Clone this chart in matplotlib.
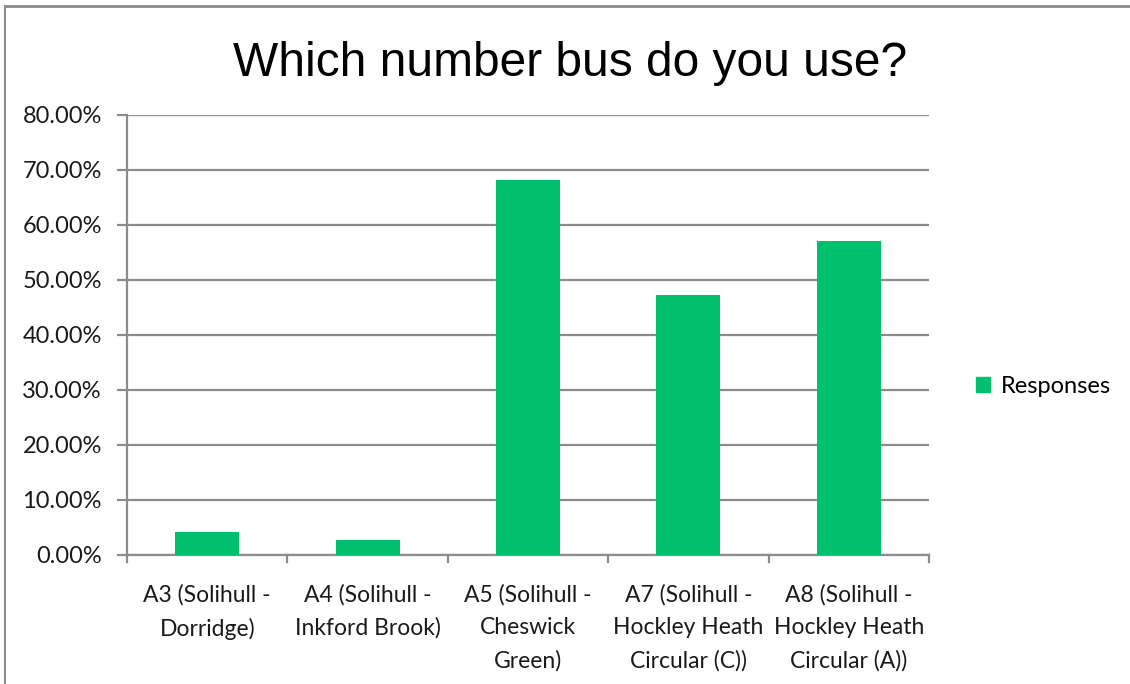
import matplotlib.pyplot as plt
from matplotlib.lines import Line2D
from matplotlib.patches import Patch

# data
categories = ["A3 (Solihull -\nDorridge)",
              "A4 (Solihull -\nInkford Brook)",
              "A5 (Solihull -\nCheswick\nGreen)",
              "A7 (Solihull -\nHockley Heath\nCircular (C))",
              "A8 (Solihull -\nHockley Heath\nCircular (A))"]
responses = [4.1, 2.6, 68.2, 47.3, 57.1]
yticks = [0, 10, 20, 30, 40, 50, 60, 70, 80]

green = "#00BF6F"
grid_col = "#8C8C8C"

W, H = 1130, 684
fig = plt.figure(figsize=(W / 100, H / 100), dpi=100)
ax = fig.add_axes([127 / W, 1 - 554.5 / H, (929 - 127) / W, (554.5 - 115) / H])

x = list(range(len(categories)))
ax.bar(x, responses, width=0.4, color=green, zorder=3)
ax.set_xlim(-0.5, len(categories) - 0.5)
ax.set_ylim(0, 80)

ax.set_yticks(yticks)
ax.set_yticklabels([f"{v:.2f}%" for v in yticks], family="Lato", fontsize=17, color="#1a1a1a")
ax.yaxis.grid(True, color=grid_col, linewidth=1.6, zorder=0)
ax.tick_params(axis="y", length=7, width=1.6, color=grid_col, pad=11)

# category labels centred, ticks at category boundaries
ax.set_xticks(x)
ax.set_xticklabels(categories, family="Lato", fontsize=16.5, color="#1a1a1a", linespacing=1.7)
ax.tick_params(axis="x", length=0, pad=21)
for b in [i - 0.5 for i in range(len(categories) + 1)]:
    ax.plot([b, b], [0, -1.3], color=grid_col, linewidth=1.6, clip_on=False, zorder=4)

for s in ["top", "right"]:
    ax.spines[s].set_visible(False)
for s in ["left", "bottom"]:
    ax.spines[s].set_color(grid_col)
    ax.spines[s].set_linewidth(1.6)

fig.text(570 / W, 1 - 64 / H, "Which number bus do you use?", family="Liberation Sans",
         fontsize=34.5, ha="center", va="center")

fig.legend(handles=[Patch(color=green, label="Responses")], loc="center left",
           bbox_to_anchor=(955 / W, 1 - 386 / H), frameon=False,
           prop={"family": "Lato", "size": 17}, handlelength=0.6, handleheight=0.6,
           handletextpad=0.45)

# outer chart frame
fig.add_artist(Line2D([5 / W, 1], [1 - 6 / H, 1 - 6 / H], color=grid_col, linewidth=2))
fig.add_artist(Line2D([5 / W, 5 / W], [0, 1 - 6 / H], color=grid_col, linewidth=1.5))

fig.savefig("out.png", dpi=100)
